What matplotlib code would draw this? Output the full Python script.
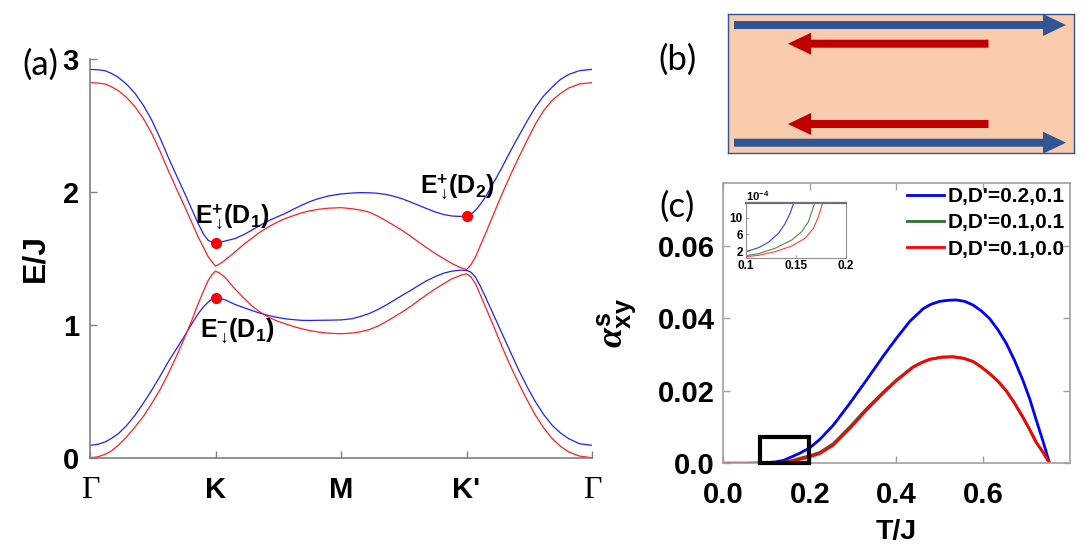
import matplotlib
matplotlib.use('Agg')
import matplotlib.pyplot as plt
from matplotlib.patches import Rectangle, FancyArrow

plt.rcParams['font.family'] = ['Liberation Sans', 'DejaVu Sans']
plt.rcParams['font.weight'] = 'bold'
plt.rcParams['mathtext.fontset'] = 'custom'
plt.rcParams['mathtext.rm'] = 'Liberation Sans'
plt.rcParams['mathtext.bf'] = 'Liberation Sans:bold'
plt.rcParams['mathtext.it'] = 'Liberation Serif:italic'

# ---- (a) bands along G-K-M-K'-G (k = 0..4) ----
k = [0, 0.06, 0.119, 0.17, 0.225, 0.29, 0.358, 0.425, 0.491, 0.56, 0.623, 0.69, 0.756, 0.81, 0.862, 0.905, 0.942, 0.975, 1.0,
     1.03, 1.074, 1.154, 1.22, 1.286, 1.35, 1.419, 1.485, 1.552, 1.62, 1.684, 1.75, 1.817, 1.9, 2.0,
     2.089, 2.155, 2.222, 2.29, 2.355, 2.42, 2.487, 2.555, 2.62, 2.685, 2.753, 2.82, 2.886, 2.95, 3.0,
     3.035, 3.072, 3.11, 3.151, 3.22, 3.284, 3.35, 3.417, 3.485, 3.55, 3.615, 3.683, 3.75, 3.815, 3.9, 4.0]
blue_up = [2.92, 2.917, 2.91, 2.89, 2.86, 2.81, 2.74, 2.65, 2.54, 2.40, 2.26, 2.12, 1.985, 1.87, 1.76, 1.68, 1.634, 1.62, 1.614,
           1.618, 1.629, 1.647, 1.675, 1.709, 1.745, 1.78, 1.808, 1.835, 1.868, 1.897, 1.925, 1.947, 1.968, 1.983,
           1.99, 1.993, 1.992, 1.988, 1.98, 1.966, 1.947, 1.922, 1.897, 1.872, 1.847, 1.828, 1.817, 1.814, 1.815,
           1.83, 1.86, 1.905, 1.96, 2.075, 2.185, 2.305, 2.42, 2.535, 2.637, 2.72, 2.787, 2.845, 2.882, 2.91, 2.92]
red_up = [2.82, 2.817, 2.81, 2.79, 2.76, 2.71, 2.64, 2.55, 2.44, 2.30, 2.16, 2.02, 1.885, 1.77, 1.66, 1.58, 1.51, 1.47, 1.44,
          1.455, 1.484, 1.546, 1.60, 1.647, 1.693, 1.734, 1.768, 1.797, 1.82, 1.84, 1.856, 1.867, 1.876, 1.88,
          1.872, 1.862, 1.847, 1.818, 1.784, 1.748, 1.709, 1.665, 1.62, 1.577, 1.534, 1.496, 1.459, 1.43, 1.414,
          1.45, 1.509, 1.595, 1.684, 1.84, 1.985, 2.125, 2.26, 2.39, 2.51, 2.61, 2.687, 2.74, 2.78, 2.81, 2.82]
blue_lo = [0.093, 0.1, 0.118, 0.145, 0.18, 0.24, 0.318, 0.41, 0.506, 0.615, 0.72, 0.82, 0.92, 1.005, 1.083, 1.135, 1.17, 1.195, 1.203,
           1.2, 1.188, 1.153, 1.13, 1.108, 1.088, 1.07, 1.056, 1.045, 1.038, 1.033, 1.032, 1.033, 1.034, 1.036,
           1.045, 1.062, 1.083, 1.112, 1.145, 1.182, 1.22, 1.258, 1.296, 1.332, 1.363, 1.388, 1.403, 1.41, 1.408,
           1.395, 1.358, 1.29, 1.208, 1.065, 0.932, 0.795, 0.657, 0.53, 0.419, 0.325, 0.243, 0.185, 0.143, 0.105, 0.093]
red_lo = [0.0, 0.006, 0.025, 0.05, 0.093, 0.155, 0.23, 0.31, 0.406, 0.515, 0.63, 0.765, 0.907, 1.03, 1.158, 1.255, 1.333, 1.38, 1.403,
          1.39, 1.358, 1.27, 1.205, 1.145, 1.098, 1.058, 1.03, 1.0075, 0.987, 0.97, 0.956, 0.945, 0.936, 0.932,
          0.937, 0.947, 0.962, 0.988, 1.02, 1.057, 1.095, 1.138, 1.183, 1.227, 1.27, 1.31, 1.346, 1.37, 1.383,
          1.36, 1.308, 1.225, 1.133, 0.98, 0.832, 0.69, 0.556, 0.43, 0.318, 0.225, 0.143, 0.085, 0.043, 0.012, 0.0]
dot_k = [1, 1, 3]
dot_E = [1.614, 1.203, 1.815]
k_ticks = [0, 1, 2, 3, 4]
k_labels = ['Γ', 'K', 'M', "K'", 'Γ']

# ---- (c) spin Nernst coefficient vs T/J ----
T_blue = [0, 0.06, 0.08, 0.10, 0.12, 0.14, 0.16, 0.177, 0.20, 0.223, 0.254, 0.292, 0.331, 0.369, 0.40, 0.431, 0.462,
          0.48, 0.50, 0.52, 0.538, 0.558, 0.577, 0.596, 0.615, 0.635, 0.654, 0.673, 0.692, 0.708, 0.723, 0.739, 0.754]
a_blue = [0, 0.00001, 0.00006, 0.00018, 0.00037, 0.00085, 0.0019, 0.0028, 0.0043, 0.0066, 0.0105, 0.0165, 0.0230, 0.0295,
          0.0345, 0.0392, 0.0427, 0.0439, 0.0447, 0.0450, 0.0451, 0.0447, 0.0437, 0.0421, 0.0400, 0.0368, 0.0331,
          0.0284, 0.0230, 0.0178, 0.0120, 0.0060, 0.0]
T_red = [0, 0.06, 0.08, 0.10, 0.12, 0.14, 0.16, 0.177, 0.20, 0.223, 0.254, 0.292, 0.331, 0.369, 0.40, 0.438, 0.458, 0.477,
         0.505, 0.531, 0.555, 0.577, 0.596, 0.615, 0.635, 0.654, 0.673, 0.692, 0.708, 0.723, 0.739, 0.754]
a_red = [0, 0.000003, 0.00002, 0.00006, 0.00013, 0.00028, 0.00052, 0.0011, 0.0018, 0.0027, 0.0050, 0.0096, 0.0147, 0.0193,
         0.0228, 0.0265, 0.0278, 0.0287, 0.0293, 0.0294, 0.0290, 0.0281, 0.0266, 0.0248, 0.0226, 0.0200, 0.0166,
         0.0128, 0.0093, 0.0058, 0.0030, 0.0]
a_green = [0, 0.000005, 0.00003, 0.00009, 0.00018, 0.00042, 0.00080, 0.0014, 0.0021, 0.0030, 0.0054, 0.0100, 0.0151, 0.0196,
           0.0230, 0.0266, 0.0278, 0.0287, 0.0293, 0.0294, 0.0290, 0.0281, 0.0266, 0.0248, 0.0226, 0.0200, 0.0166,
           0.0128, 0.0093, 0.0058, 0.0030, 0.0]
labels_c = ["D,D'=0.2,0.1", "D,D'=0.1,0.1", "D,D'=0.1,0.0"]

# inset (units of 1e-4)
ins_T_blue = [0.100, 0.1127, 0.1227, 0.1327, 0.139, 0.1443, 0.1477, 0.152]
ins_a_blue = [1.84, 2.8, 4.08, 6.24, 8.4, 11.0, 13.3, 16.0]
ins_T_green = [0.100, 0.1127, 0.1293, 0.146, 0.156, 0.1627, 0.1687, 0.174]
ins_a_green = [0.88, 1.36, 2.64, 4.64, 6.64, 9.04, 13.3, 16.0]
ins_T_red = [0.100, 0.1127, 0.1293, 0.146, 0.1593, 0.1677, 0.1727, 0.1767, 0.181]
ins_a_red = [0.64, 0.96, 1.84, 3.2, 5.04, 7.44, 10.24, 13.3, 16.0]

W, H = 1085, 547
fig = plt.figure(figsize=(W / 100, H / 100), dpi=100)


def box(l, t, r, b):
    return [l / W, 1 - b / H, (r - l) / W, (b - t) / H]


# ================= (a) =================
axa = fig.add_axes(box(90, 58.7, 592, 457.7))
axa.plot(k, blue_up, color='#2020ff', lw=0.9)
axa.plot(k, blue_lo, color='#2020ff', lw=0.9)
axa.plot(k, red_up, color='#ff2020', lw=0.9)
axa.plot(k, red_lo, color='#ff2020', lw=0.9)
axa.plot(dot_k, dot_E, 'o', color='#ff0000', ms=7, zorder=5)
axa.set_xlim(0, 4)
axa.set_ylim(0, 3)
for s in ['top', 'right']:
    axa.spines[s].set_visible(False)
for s in ['left', 'bottom']:
    axa.spines[s].set_color('#808080')
    axa.spines[s].set_linewidth(1.2)
axa.set_yticks([0, 1, 2, 3])
axa.set_yticklabels(['0', '1', '2', '3'])
axa.set_xticks(k_ticks)
axa.set_xticklabels(k_labels)
axa.tick_params(direction='in', length=5, width=1, color='#808080', labelsize=21)
axa.tick_params(axis='x', pad=13)
axa.tick_params(axis='y', pad=8)
for lab in axa.get_xticklabels():
    if lab.get_text() == 'Γ':
        lab.set_family('Liberation Serif')
        lab.set_fontweight('normal')
        lab.set_fontsize(23)
axa.set_ylabel('E/J', fontsize=23, fontweight='bold')
axa.yaxis.set_label_coords(-0.078, 0.5)

axa.text(0.837, 1.765, r'$\mathbf{E}^{\mathbf{+}}_{\downarrow}\!\mathbf{(D_1)}$', fontsize=18, va='baseline')
axa.text(0.876, 0.907, r'$\mathbf{E}^{\mathbf{-}}_{\downarrow}\!\mathbf{(D_1)}$', fontsize=18, va='baseline')
axa.text(2.63, 1.988, r'$\mathbf{E}^{\mathbf{+}}_{\downarrow}\!\mathbf{(D_2)}$', fontsize=18, va='baseline')

# ================= (b) =================
axb = fig.add_axes(box(727.5, 14.3, 1073.7, 153))
axb.set_facecolor('#F8CBAD')
axb.set_xlim(0, 346.2)
axb.set_ylim(138.7, 0)
axb.set_xticks([])
axb.set_yticks([])
for s in axb.spines.values():
    s.set_color('#2F5597')
    s.set_linewidth(1.0)
arrows_b = [(6.5, 338.5, 10.7, '#2F5597'), (6.5, 338.5, 128.4, '#2F5597'),
            (261, 60.5, 29.4, '#C00000'), (261, 60.5, 109.7, '#C00000')]
for x0, x1, y0, c in arrows_b:
    axb.add_patch(FancyArrow(x0, y0, x1 - x0, 0, width=8, head_width=22, head_length=23,
                             length_includes_head=True, color=c, lw=0, clip_on=False))

# ================= (c) =================
axc = fig.add_axes(box(723.3, 183.3, 1069.5, 463.3))
axc.plot(T_blue, a_blue, color='#0000ff', lw=2, label=labels_c[0])
axc.plot(T_red, a_green, color='#2f6f2f', lw=2, label=labels_c[1])
axc.plot(T_red, a_red, color='#ff0000', lw=2, label=labels_c[2])
axc.set_xlim(0, 0.8)
axc.set_ylim(0, 0.0773)
axc.set_xticks([0, 0.2, 0.4, 0.6])
axc.set_xticklabels(['0.0', '0.2', '0.4', '0.6'])
axc.set_yticks([0, 0.02, 0.04, 0.06])
axc.set_yticklabels(['0.0', '0.02', '0.04', '0.06'])
for s in axc.spines.values():
    s.set_color('#a0a0a0')
    s.set_linewidth(1.2)
axc.tick_params(direction='in', length=5, width=1, color='#a0a0a0', labelsize=21,
                top=True, right=True)
axc.tick_params(axis='x', pad=13)
axc.tick_params(axis='y', pad=6)
axc.set_xlabel('T/J', fontsize=20.5, fontweight='bold')
axc.xaxis.set_label_coords(0.5, -0.2)
axc.set_ylabel(r'$\alpha^{\mathbf{s}}_{\mathbf{xy}}$', fontsize=26)
axc.yaxis.set_label_coords(-0.245, 0.5)
axc.add_patch(Rectangle((0.085, 0.0), 0.112, 0.0073, fill=False, ec='black', lw=3, clip_on=False, zorder=6))
axc.legend(loc='upper left', bbox_to_anchor=(906.7 / W, 1 - 187 / H), bbox_transform=fig.transFigure,
           frameon=False, fontsize=15, handlelength=1.8, handletextpad=0.15, labelspacing=0.35,
           borderpad=0, borderaxespad=0)

# inset
axi = fig.add_axes(box(745.7, 203.3, 845.7, 257.7))
axi.plot(ins_T_blue, ins_a_blue, color='#3a3aff', lw=0.8)
axi.plot(ins_T_green, ins_a_green, color='#4a8a4a', lw=0.8)
axi.plot(ins_T_red, ins_a_red, color='#ff4040', lw=0.8)
axi.set_xlim(0.1, 0.2)
axi.set_ylim(0.4, 13.45)
axi.set_xticks([0.1, 0.15, 0.2])
axi.set_xticklabels(['0.1', '0.15', '0.2'])
axi.set_yticks([2, 6, 10])
axi.set_yticklabels(['2', '6', '10'])
for s in axi.spines.values():
    s.set_color('#909090')
    s.set_linewidth(0.8)
axi.spines['top'].set_color('#707070')
axi.spines['top'].set_linewidth(1.6)
axi.tick_params(direction='in', length=2, width=0.6, color='#909090', labelsize=8.5, pad=2)
axi.text(0.0, 1.01, r'$\mathbf{10^{-4}}$', transform=axi.transAxes, fontsize=8, ha='left', va='bottom')

# panel letters
fig.text(40 / W, 1 - 65 / H, '(a)', family='Lato', fontweight='normal', fontsize=25, ha='center', va='center')
fig.text(677 / W, 1 - 60 / H, '(b)', family='Lato', fontweight='normal', fontsize=25, ha='center', va='center')
fig.text(677 / W, 1 - 207 / H, '(c)', family='Lato', fontweight='normal', fontsize=25, ha='center', va='center')

fig.savefig('out.png', dpi=100)
